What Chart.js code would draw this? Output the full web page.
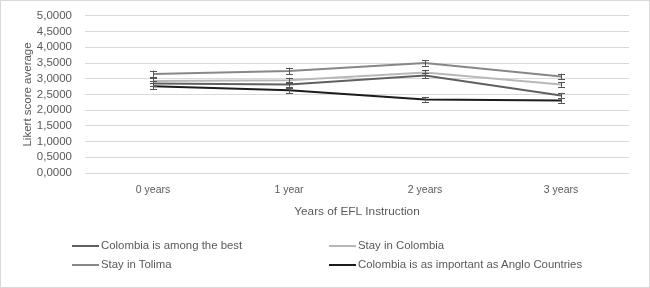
<!DOCTYPE html>
<html>
<head>
<meta charset="utf-8">
<script src="https://cdn.jsdelivr.net/npm/chart.js@4"></script>
<style>
  html, body { margin: 0; padding: 0; background: #fff; }
  #wrap { position: relative; width: 648px; height: 286px; border: 1px solid #d9d9d9; overflow: hidden; }
  #chart { position: absolute; left: 0; top: -5px; }
  #legend { position: absolute; left: 0; top: 0; width: 648px; height: 286px; pointer-events: none;
    font-family: "Liberation Sans", sans-serif; font-size: 11.4px; line-height: 13px; color: #595959; }
  .item { position: absolute; display: flex; align-items: center; white-space: nowrap; }
  .item span.sw { display: inline-block; width: 27px; height: 2px; margin-right: 2px; }
</style>
</head>
<body>
<div id="wrap">
  <canvas id="chart" width="648" height="291"></canvas>
  <div id="legend"></div>
</div>
<script>
const categorias = ["0 years", "1 year", "2 years", "3 years"];
const nomesSeries = [
  "Colombia is among the best",
  "Stay in Colombia",
  "Stay in Tolima",
  "Colombia is as important as Anglo Countries",
];
const amongBest = [2.85, 2.82, 3.10, 2.47];
const stayColombia = [2.93, 2.95, 3.20, 2.82];
const stayTolima = [3.15, 3.25, 3.50, 3.07];
const angloCountries = [2.76, 2.63, 2.34, 2.31];
const erroAmongBest = [0.09, 0.08, 0.09, 0.08];
const erroStayColombia = [0.08, 0.08, 0.08, 0.08];
const erroStayTolima = [0.11, 0.10, 0.09, 0.09];
const erroAnglo = [0.09, 0.09, 0.07, 0.08];
const coresSeries = ["#606060", "#b8b8b8", "#878787", "#1c1c1c"];

const textoCor = "#595959";
const fonte = "'Liberation Sans', sans-serif";

const errorBars = {
  id: "errorBars",
  afterDatasetsDraw(chart) {
    const ctx = chart.ctx;
    const y = chart.scales.y;
    ctx.save();
    ctx.strokeStyle = "#555";
    ctx.lineWidth = 1;
    chart.data.datasets.forEach((ds, i) => {
      const meta = chart.getDatasetMeta(i);
      meta.data.forEach((pt, j) => {
        const v = ds.data[j];
        const e = ds.erros[j];
        const x = Math.round(pt.x) + 0.5;
        const top = y.getPixelForValue(v + e);
        const bot = y.getPixelForValue(v - e);
        ctx.beginPath();
        ctx.moveTo(x, top);
        ctx.lineTo(x, bot);
        ctx.moveTo(x - 3.5, Math.round(top) + 0.5);
        ctx.lineTo(x + 3.5, Math.round(top) + 0.5);
        ctx.moveTo(x - 3.5, Math.round(bot) + 0.5);
        ctx.lineTo(x + 3.5, Math.round(bot) + 0.5);
        ctx.stroke();
      });
    });
    ctx.restore();
  },
};

const valores = [amongBest, stayColombia, stayTolima, angloCountries];
const erros = [erroAmongBest, erroStayColombia, erroStayTolima, erroAnglo];

const chart = new Chart(document.getElementById("chart"), {
  type: "line",
  data: {
    labels: categorias,
    datasets: nomesSeries.map((nome, i) => ({
      label: nome,
      data: valores[i],
      erros: erros[i],
      borderColor: coresSeries[i],
      backgroundColor: coresSeries[i],
      borderWidth: 2,
      pointRadius: 0,
      tension: 0,
    })),
  },
  options: {
    responsive: false,
    animation: false,
    layout: { padding: { left: 20, right: 20, top: 0, bottom: 68 } },
    plugins: { legend: { display: false }, tooltip: { enabled: false } },
    scales: {
      x: {
        offset: true,
        grid: { display: false, drawTicks: false },
        border: { display: false },
        ticks: { color: textoCor, font: { family: fonte, size: 10.5 }, padding: 11 },
        title: {
          display: true,
          text: "Years of EFL Instruction",
          color: textoCor,
          font: { family: fonte, size: 11.8 },
          padding: { top: 6, bottom: 0 },
        },
        afterFit(s) { s.height = 46; },
      },
      y: {
        min: 0,
        max: 5,
        grid: { color: "#d9d9d9", drawTicks: false },
        border: { display: false },
        ticks: {
          stepSize: 0.5,
          autoSkip: false,
          color: textoCor,
          font: { family: fonte, size: 11.5 },
          padding: 13,
          callback: (v) => v.toFixed(4).replace(".", ","),
        },
        title: {
          display: true,
          text: "Likert score average",
          color: textoCor,
          font: { family: fonte, size: 11.5 },
          padding: 0,
        },
        afterFit(s) { s.width = 64; },
      },
    },
  },
  plugins: [errorBars],
});

// legenda em duas colunas, montada a partir dos datasets
const legendEl = document.getElementById("legend");
const posLegenda = [
  { left: 71, top: 238 },
  { left: 328, top: 238 },
  { left: 71, top: 257 },
  { left: 328, top: 257 },
];
chart.data.datasets.forEach((ds, i) => {
  const item = document.createElement("div");
  item.className = "item";
  item.style.left = posLegenda[i].left + "px";
  item.style.top = posLegenda[i].top + "px";
  const sw = document.createElement("span");
  sw.className = "sw";
  sw.style.background = ds.borderColor;
  const txt = document.createElement("span");
  txt.textContent = ds.label;
  item.appendChild(sw);
  item.appendChild(txt);
  legendEl.appendChild(item);
});
</script>
</body>
</html>
